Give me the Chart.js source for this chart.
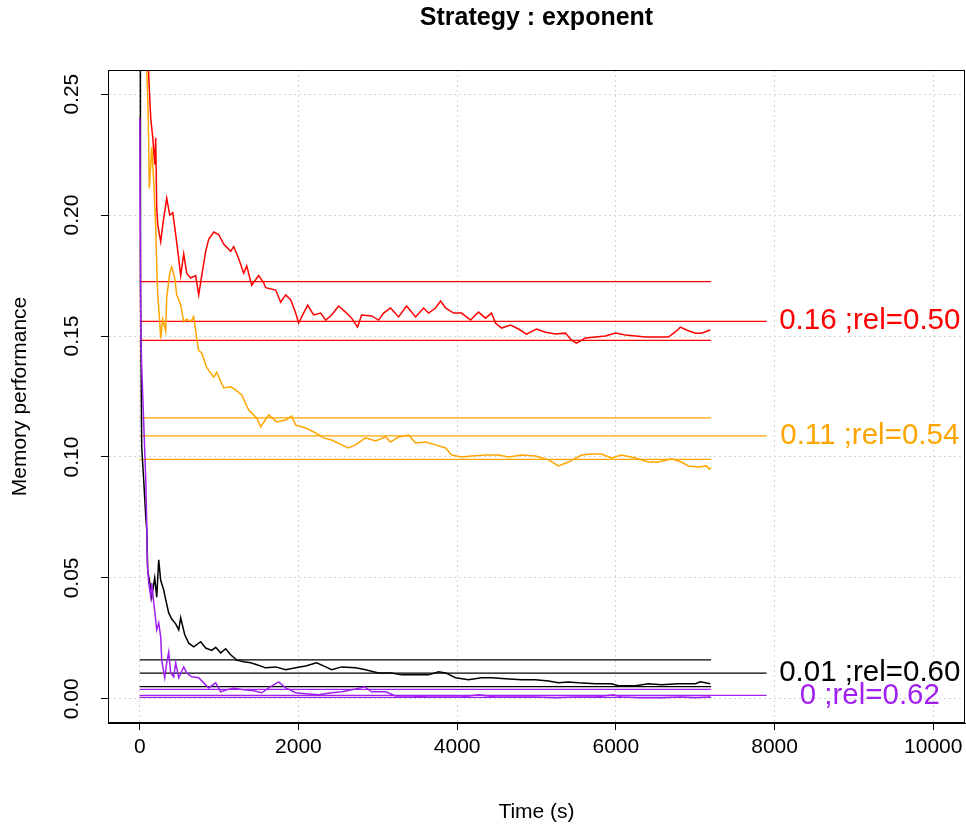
<!DOCTYPE html>
<html>
<head>
<meta charset="utf-8">
<script src="https://cdn.jsdelivr.net/npm/chart.js@4/dist/chart.umd.min.js"></script>
<style>
  body { margin: 0; background: #fff; }
  #wrap { width: 966px; height: 830px; }
</style>
</head>
<body>
<div id="wrap"><canvas id="c" width="966" height="830"></canvas></div>
<script>
// time axis (s) and memory performance per run
const redT = [0, 100, 113, 126, 139, 164, 189, 201, 214, 227, 264, 290, 340, 378, 416, 453, 491, 516, 554, 592, 642, 705, 743, 781, 831, 869, 932, 995, 1058, 1146, 1184, 1247, 1310, 1348, 1411, 1499, 1562, 1587, 1713, 1776, 1839, 1902, 1965, 2002, 2065, 2116, 2191, 2280, 2343, 2418, 2506, 2594, 2670, 2745, 2796, 2922, 3010, 3073, 3161, 3262, 3363, 3476, 3577, 3640, 3728, 3791, 3854, 3955, 4055, 4169, 4269, 4358, 4433, 4483, 4559, 4672, 4773, 4874, 5000, 5113, 5239, 5365, 5441, 5504, 5617, 5743, 5869, 5995, 6121, 6247, 6373, 6511, 6662, 6750, 6813, 6889, 7002, 7078, 7191];
const redV = [0.45, 0.27, 0.258, 0.248, 0.240, 0.232, 0.221, 0.232, 0.203, 0.196, 0.189, 0.196, 0.207, 0.200, 0.201, 0.192, 0.182, 0.175, 0.184, 0.176, 0.174, 0.175, 0.167, 0.175, 0.185, 0.190, 0.193, 0.192, 0.188, 0.185, 0.187, 0.182, 0.176, 0.179, 0.171, 0.175, 0.172, 0.170, 0.169, 0.164, 0.167, 0.165, 0.1595, 0.1554, 0.1595, 0.1628, 0.1587, 0.1595, 0.1566, 0.1587, 0.1624, 0.1599, 0.1574, 0.1537, 0.1587, 0.1583, 0.1566, 0.1595, 0.1616, 0.1579, 0.1624, 0.1579, 0.1616, 0.1595, 0.1616, 0.1645, 0.1616, 0.1595, 0.1595, 0.1566, 0.1599, 0.1574, 0.1595, 0.1554, 0.1533, 0.1545, 0.1529, 0.1508, 0.1529, 0.1516, 0.1508, 0.1512, 0.1483, 0.1471, 0.1492, 0.1496, 0.1500, 0.1512, 0.1504, 0.1500, 0.1496, 0.1496, 0.1496, 0.1517, 0.1537, 0.1525, 0.1512, 0.1512, 0.1525];

const orangeT = [0, 88, 101, 113, 120, 139, 151, 176, 201, 214, 227, 252, 264, 290, 327, 340, 378, 403, 441, 466, 516, 554, 592, 642, 680, 718, 743, 781, 844, 932, 970, 1058, 1146, 1209, 1285, 1373, 1474, 1524, 1625, 1725, 1839, 1914, 1965, 2091, 2217, 2317, 2418, 2544, 2632, 2720, 2846, 2972, 3098, 3161, 3262, 3388, 3476, 3602, 3728, 3854, 3929, 4055, 4181, 4358, 4521, 4647, 4811, 4987, 5151, 5277, 5403, 5567, 5693, 5818, 5944, 6070, 6247, 6410, 6536, 6700, 6826, 6914, 7040, 7141, 7178, 7200];
const orangeV = [0.45, 0.261, 0.248, 0.230, 0.211, 0.221, 0.228, 0.214, 0.196, 0.179, 0.167, 0.156, 0.149, 0.157, 0.152, 0.166, 0.176, 0.1785, 0.174, 0.167, 0.163, 0.156, 0.157, 0.156, 0.158, 0.149, 0.144, 0.143, 0.137, 0.133, 0.135, 0.1285, 0.129, 0.1277, 0.1256, 0.1194, 0.1161, 0.1124, 0.1174, 0.1145, 0.1153, 0.1169, 0.1132, 0.112, 0.1099, 0.1079, 0.107, 0.105, 0.1037, 0.105, 0.1079, 0.1066, 0.1083, 0.1062, 0.1083, 0.1091, 0.1058, 0.1062, 0.105, 0.1037, 0.1008, 0.1, 0.1004, 0.1008, 0.1008, 0.1, 0.1008, 0.1004, 0.0988, 0.0963, 0.0979, 0.1008, 0.1012, 0.1012, 0.0996, 0.1008, 0.0996, 0.0979, 0.0979, 0.0992, 0.0979, 0.0963, 0.0959, 0.0963, 0.095, 0.0955];

const blackT = [0, 10, 25, 50, 76, 88, 101, 126, 151, 189, 214, 239, 264, 302, 327, 365, 403, 453, 491, 516, 567, 617, 680, 768, 831, 907, 957, 1020, 1083, 1146, 1222, 1310, 1398, 1486, 1587, 1713, 1839, 1965, 2091, 2229, 2343, 2418, 2544, 2720, 2846, 3010, 3174, 3300, 3476, 3640, 3766, 3854, 3980, 4143, 4307, 4433, 4609, 4811, 4987, 5151, 5277, 5403, 5529, 5743, 5944, 6032, 6247, 6410, 6574, 6788, 7002, 7065, 7191];
const blackV = [0.6, 0.17, 0.104, 0.0905, 0.075, 0.070, 0.053, 0.048, 0.042, 0.050, 0.042, 0.0575, 0.049, 0.045, 0.041, 0.0355, 0.033, 0.031, 0.0285, 0.0335, 0.0265, 0.023, 0.0215, 0.0236, 0.021, 0.020, 0.0213, 0.019, 0.0207, 0.0182, 0.016, 0.0153, 0.0149, 0.014, 0.0128, 0.0132, 0.012, 0.0128, 0.0136, 0.0149, 0.0132, 0.012, 0.0132, 0.0128, 0.012, 0.0107, 0.0107, 0.0099, 0.0099, 0.0099, 0.0112, 0.0107, 0.0087, 0.0079, 0.0087, 0.0087, 0.0083, 0.0079, 0.0079, 0.0074, 0.0066, 0.007, 0.0066, 0.0062, 0.0062, 0.0054, 0.0054, 0.0062, 0.0058, 0.0062, 0.0062, 0.007, 0.0062];

const purpleT = [0, 13, 25, 50, 76, 88, 95, 113, 139, 151, 176, 201, 214, 239, 264, 277, 315, 340, 365, 390, 428, 453, 491, 554, 592, 655, 743, 806, 869, 957, 1020, 1096, 1184, 1310, 1436, 1537, 1650, 1751, 1839, 1965, 2091, 2254, 2418, 2544, 2720, 2834, 2922, 3098, 3224, 3426, 3640, 3854, 4055, 4269, 4483, 4735, 4987, 5239, 5491, 5743, 5970, 6070, 6284, 6574, 6826, 7002, 7191];
const purpleV = [0.240, 0.1525, 0.137, 0.114, 0.0905, 0.0727, 0.0562, 0.0479, 0.0421, 0.0479, 0.040, 0.0326, 0.0285, 0.0314, 0.0256, 0.016, 0.0087, 0.0149, 0.0194, 0.0107, 0.0091, 0.0149, 0.0087, 0.0132, 0.0107, 0.0091, 0.0087, 0.0066, 0.0045, 0.0066, 0.0029, 0.0037, 0.0045, 0.0037, 0.0033, 0.0025, 0.005, 0.007, 0.0045, 0.0025, 0.0021, 0.0017, 0.0025, 0.0029, 0.0041, 0.005, 0.0029, 0.0029, 0.0012, 0.0012, 0.0008, 0.0008, 0.0008, 0.0017, 0.0008, 0.0008, 0.0008, 0.0004, 0.0008, 0.0008, 0.0017, 0.0008, 0.0004, 0.0004, 0.0008, 0.0004, 0.0008];

// reference levels per run: upper, mean, lower
const runColors = ["#ff0000", "#ffa500", "#000000", "#a020f0"];
const levelHigh = [0.1725, 0.1162, 0.0161, 0.0039];
const levelMid = [0.1561, 0.1087, 0.0106, 0.0014];
const levelLow = [0.1482, 0.0990, 0.0050, 0.0006];
const levelLabels = ["0.16 ;rel=0.50", "0.11 ;rel=0.54", "0.01 ;rel=0.60", "0 ;rel=0.62"];
const levelEnd = 7200;
const midEnd = 7900;
const labelX = 9200;

const xTicks = [0, 2000, 4000, 6000, 8000, 10000];
const xTickLabels = ["0", "2000", "4000", "6000", "8000", "10000"];
const yTicks = [0, 0.05, 0.10, 0.15, 0.20, 0.25];
const yTickLabels = ["0.00", "0.05", "0.10", "0.15", "0.20", "0.25"];

const FONT = "'Liberation Sans', Arial, sans-serif";

function pts(ts, vs) {
  const n = Math.min(ts.length, vs.length);
  const out = [];
  for (let i = 0; i < n; i++) out.push({ x: ts[i], y: vs[i] });
  return out;
}

const series = [
  pts(redT, redV),
  pts(orangeT, orangeV),
  pts(blackT, blackV),
  pts(purpleT, purpleV),
];

let datasets = [];
for (let i = 0; i < 4; i++) {
  const col = runColors[i];
  const lines = [
    [{ x: 0, y: levelHigh[i] }, { x: levelEnd, y: levelHigh[i] }],
    [{ x: 0, y: levelMid[i] }, { x: midEnd, y: levelMid[i] }],
    [{ x: 0, y: levelLow[i] }, { x: levelEnd, y: levelLow[i] }],
  ];
  lines.forEach((d) => {
    datasets.push({ data: d, borderColor: col, borderWidth: 1.2, pointRadius: 0, showLine: true, order: 10 - i });
  });
  datasets.push({ data: series[i], borderColor: col, borderWidth: 1.5, pointRadius: 0, showLine: true, tension: 0, order: 10 - i });
}

// R style frame, rotated y labels, titles and level labels
const rDecor = {
  id: "rDecor",
  afterDraw(chart) {
    const { ctx, chartArea: { left, right, top, bottom }, scales: { x, y } } = chart;
    ctx.save();
    ctx.strokeStyle = "#000";
    ctx.lineWidth = 1;
    ctx.strokeRect(left + 0.5, top + 0.5, right - left - 1, bottom - top - 1);

    ctx.fillStyle = "#000";
    ctx.font = "21px " + FONT;
    ctx.textAlign = "center";
    ctx.textBaseline = "middle";
    yTicks.forEach((v, i) => {
      ctx.save();
      ctx.translate(72, y.getPixelForValue(v));
      ctx.rotate(-Math.PI / 2);
      ctx.fillText(yTickLabels[i], 0, 0);
      ctx.restore();
    });

    ctx.save();
    ctx.translate(20, (top + bottom) / 2);
    ctx.rotate(-Math.PI / 2);
    ctx.fillText("Memory performance", 0, 0);
    ctx.restore();

    ctx.fillText("Time (s)", (left + right) / 2, 812);

    ctx.font = "bold 25px " + FONT;
    ctx.fillText("Strategy : exponent", (left + right) / 2, 18);

    ctx.font = "29.5px " + FONT;
    for (let i = 0; i < 4; i++) {
      ctx.fillStyle = runColors[i];
      ctx.fillText(levelLabels[i], x.getPixelForValue(labelX), y.getPixelForValue(levelMid[i]));
    }
    ctx.restore();
  },
};

new Chart(document.getElementById("c"), {
  type: "scatter",
  data: { datasets },
  options: {
    responsive: false,
    animation: false,
    layout: { padding: { top: 70, left: 0, right: 1, bottom: 0 } },
    plugins: { legend: { display: false }, tooltip: { enabled: false } },
    scales: {
      x: {
        type: "linear",
        min: -400,
        max: 10400,
        afterBuildTicks: (s) => { s.ticks = xTicks.map((v) => ({ value: v })); },
        afterFit: (s) => { s.height = 107; s.paddingLeft = 0; s.paddingRight = 0; },
        ticks: {
          autoSkip: false,
          maxRotation: 0,
          padding: 5,
          color: "#000",
          font: { size: 21, family: FONT },
          callback: (v, i) => xTickLabels[i],
        },
        grid: { color: "#d3d3d3", lineWidth: 1, tickColor: "#000", tickLength: 7, tickWidth: 1 },
        border: { display: true, color: "#000", dash: [2, 3] },
      },
      y: {
        type: "linear",
        min: -0.01,
        max: 0.26,
        afterBuildTicks: (s) => { s.ticks = yTicks.map((v) => ({ value: v })); },
        afterFit: (s) => { s.width = 108; s.paddingTop = 0; s.paddingBottom = 0; },
        ticks: { display: false },
        grid: { color: "#d3d3d3", lineWidth: 1, tickColor: "#000", tickLength: 7, tickWidth: 1 },
        border: { display: true, color: "#000", dash: [2, 3] },
      },
    },
  },
  plugins: [rDecor],
});
</script>
</body>
</html>
